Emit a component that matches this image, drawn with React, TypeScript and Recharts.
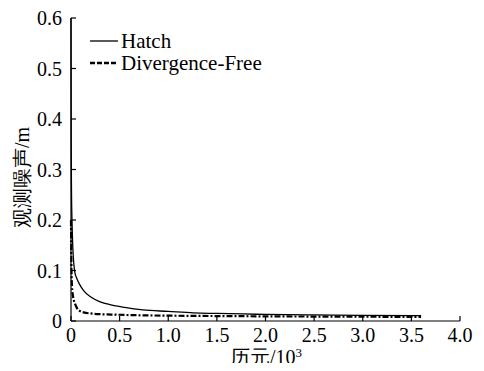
import React from "react";
import { LineChart, Line, XAxis, YAxis, Label } from "recharts";

// epochs in thousands
const epochs = [0, 0.002, 0.005, 0.01, 0.02, 0.04, 0.06, 0.09, 0.13, 0.2, 0.3, 0.41, 0.55, 0.74, 1.0, 1.26, 1.5, 1.77, 2.0, 2.5, 3.0, 3.6];
const hatch = [0.6, 0.36, 0.26, 0.2, 0.14, 0.096, 0.084, 0.072, 0.06, 0.048, 0.038, 0.032, 0.027, 0.022, 0.019, 0.016, 0.015, 0.014, 0.013, 0.012, 0.011, 0.0105];
const divFree = [0.2, 0.15, 0.1, 0.07, 0.05, 0.035, 0.026, 0.02, 0.017, 0.015, 0.0135, 0.0128, 0.012, 0.0112, 0.0106, 0.0101, 0.0098, 0.0095, 0.0092, 0.0088, 0.0085, 0.008];

const xTicks = [0, 0.5, 1, 1.5, 2, 2.5, 3, 3.5, 4];
const yTicks = [0, 0.1, 0.2, 0.3, 0.4, 0.5, 0.6];
const seriesNames = ["Hatch", "Divergence-Free"];

const data = epochs.map((x, i) => ({ x, hatch: hatch[i], div: divFree[i] }));

const FONT = "Liberation Serif";
const fmt = (v: number) => (v === 0 ? "0" : v.toFixed(1));
const TICK_MARGIN = 9;

const XTick = (props: any) => {
  const { x, y, payload } = props;
  const axisY = y - TICK_MARGIN;
  return (
    <g>
      <line x1={x} y1={axisY} x2={x} y2={axisY - 5} stroke="#000" strokeWidth={1.2} />
      <text x={x} y={y} dy={12} textAnchor="middle" fontSize={20} fontFamily={FONT} fill="#000">
        {fmt(payload.value)}
      </text>
    </g>
  );
};

const YTick = (props: any) => {
  const { x, y, payload } = props;
  const axisX = x + TICK_MARGIN;
  return (
    <g>
      <line x1={axisX} y1={y} x2={axisX + 5} y2={y} stroke="#000" strokeWidth={1.2} />
      <text x={x} y={y} dy={7} textAnchor="end" fontSize={20} fontFamily={FONT} fill="#000">
        {fmt(payload.value)}
      </text>
    </g>
  );
};

// legend drawn inside the plot, top-left
const LegendLabel = () => (
  <g fontFamily={FONT} fontSize={21} fill="#000">
    <line x1={90} y1={41} x2={118} y2={41} stroke="#000" strokeWidth={1.3} />
    <text x={121} y={48}>{seriesNames[0]}</text>
    <line x1={90} y1={63} x2={118} y2={63} stroke="#000" strokeWidth={2.4} strokeDasharray="5 2" />
    <text x={121} y={70}>{seriesNames[1]}</text>
  </g>
);

const XLabel = () => (
  <text x={266} y={364} textAnchor="middle" fontSize={20} fontFamily={FONT} fill="#000">
    历元/10<tspan dy={-7} fontSize={13}>3</tspan>
  </text>
);

const YLabel = (props: any) => {
  const { viewBox } = props;
  const cy = viewBox.y + viewBox.height / 2 + 8;
  return (
    <text x={22} y={cy} transform={`rotate(-90, 22, ${cy})`} textAnchor="middle" dominantBaseline="central" fontSize={20} fontFamily={FONT} fill="#000">
      观测噪声/m
    </text>
  );
};

export default function App() {
  return (
    <div style={{ margin: -8, width: 484, height: 371, background: "#fff" }}>
      <LineChart width={484} height={371} data={data} margin={{ top: 18, right: 24, left: 21, bottom: 0 }}>
        <XAxis
          dataKey="x"
          type="number"
          domain={[0, 4]}
          ticks={xTicks}
          interval={0}
          height={50}
          stroke="#000"
          strokeWidth={1.2}
          tickLine={false}
          tickSize={0}
          tickMargin={TICK_MARGIN}
          tick={<XTick />}
        >
          <Label content={<XLabel />} />
        </XAxis>
        <YAxis
          type="number"
          domain={[0, 0.6]}
          ticks={yTicks}
          interval={0}
          width={50}
          stroke="#000"
          strokeWidth={1.2}
          tickLine={false}
          tickSize={0}
          tickMargin={TICK_MARGIN}
          tick={<YTick />}
        >
          <Label content={<YLabel />} />
          <Label content={<LegendLabel />} />
        </YAxis>
        <Line type="monotone" dataKey="hatch" stroke="#000" strokeWidth={1.3} dot={false} isAnimationActive={false} />
        <Line type="monotone" dataKey="div" stroke="#000" strokeWidth={2.2} strokeDasharray="6 2 2 2" dot={false} isAnimationActive={false} />
      </LineChart>
    </div>
  );
}
